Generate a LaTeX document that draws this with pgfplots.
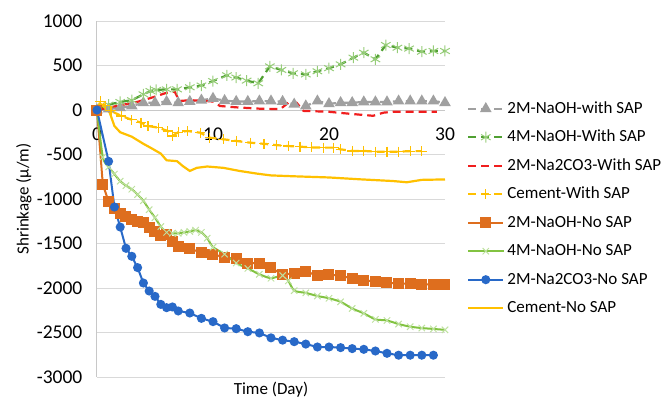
\documentclass[border=0pt]{standalone}
\usepackage{fontspec}
\setmainfont{Carlito}
\usepackage{pgfplots}
\pgfplotsset{compat=1.18}

\definecolor{gridgray}{RGB}{217,217,217}
\definecolor{axgray}{RGB}{200,200,200}
\definecolor{sapgray}{RGB}{160,160,160}
\definecolor{dkgreen}{RGB}{80,160,50}
\definecolor{ltgreen}{RGB}{150,205,120}
\definecolor{sapred}{RGB}{240,30,30}
\definecolor{cemyellow}{RGB}{255,192,0}
\definecolor{naorange}{RGB}{222,110,30}
\definecolor{nogreen}{RGB}{130,195,65}
\definecolor{nogreenmk}{RGB}{190,225,160}
\definecolor{nablue}{RGB}{40,105,200}

\newcommand\chartfont{\fontsize{17bp}{20bp}\selectfont}
\newcommand\tickfont{\fontsize{19.5bp}{22bp}\selectfont}

\begin{document}
\begin{tikzpicture}[font=\chartfont]
\begin{axis}[
  at={(0,0)}, anchor=south west,
  width=348bp, height=356bp, scale only axis,
  xmin=0, xmax=30, ymin=-3000, ymax=1000,
  axis x line=middle, axis y line=left,
  axis line style={-, draw=axgray, line width=1bp},
  hide obscured x ticks=false, hide obscured y ticks=false,
  xtick={0,10,20,30},
  ytick={-3000,-2500,...,1000},
  tick style={draw=none},
  ymajorgrids, grid style={draw=gridgray, line width=1bp},
  /pgf/number format/assume math mode=true,
  /pgf/number format/1000 sep={},
  xticklabel style={font=\tickfont, anchor=north, yshift=-12bp},
  yticklabel style={font=\tickfont, anchor=east, xshift=-9bp},
  xlabel={Time (Day)}, ylabel={Shrinkage (µ/m)},
  every axis x label/.style={at={(axis description cs:0.5,0)}, anchor=north,
    inner sep=1bp, yshift=-4bp, font=\chartfont},
  every axis y label/.style={at={(axis description cs:0,0.5)}, rotate=90,
    anchor=south, yshift=62bp, font=\chartfont},
  clip=false,
  legend cell align=left,
  legend style={draw=none, fill=none, inner sep=0pt,
    at={(axis description cs:1,1)}, anchor=north west,
    xshift=22bp, yshift=-77bp, row sep=7.5bp,
    nodes={font=\chartfont, text height=12bp, text depth=3bp, inner sep=3bp}},
  legend image code/.code={\draw[mark repeat=2,mark phase=2,#1]
    plot coordinates {(0bp,0bp) (17.5bp,0bp) (35bp,0bp)};},
]

% 2M-NaOH with SAP
\addplot[sapgray, line width=2.2bp, dash pattern=on 8bp off 5bp,
  mark=triangle*, mark size=4.5bp, mark options={solid, fill=sapgray, draw=sapgray}]
coordinates {(0,0) (1,10) (2,25) (3,45) (4,80) (5,82) (6,93) (7,80) (8,95)
 (9,110) (10,130) (11,105) (12,95) (13,95) (14,100) (15,100) (16,95) (17,64)
 (18,45) (19,100) (20,70) (21,82) (22,82) (23,90) (24,90) (25,90) (26,100)
 (27,100) (28,100) (29,100) (30,82)};
\addlegendentry{2M-NaOH-with SAP}

% 4M-NaOH with SAP
\addplot[dkgreen, line width=2.2bp, dash pattern=on 8bp off 5bp,
  mark=asterisk, mark size=5.5bp, mark options={solid, draw=ltgreen, line width=1bp}]
coordinates {(0,0) (1,60) (2,90) (3,110) (4,176) (4.6,213) (5.1,225) (6,232)
 (6.9,232) (8,255) (9,275) (10,325) (11.2,390) (12,365) (12.9,330) (13.9,300)
 (14.9,490) (15.9,450) (16.9,412) (18,400) (19,435) (20,470) (21,513)
 (22.1,588) (23,644) (24,570) (24.9,730) (25.9,700) (26.9,690) (28,655)
 (29,663) (30,663)};
\addlegendentry{4M-NaOH-With SAP}

% 2M-Na2CO3 with SAP
\addplot[sapred, line width=2.2bp, dash pattern=on 8bp off 5bp]
coordinates {(0,0) (1,25) (2,55) (3,75) (4,110) (5,150) (6,194) (6.7,206)
 (7.1,101) (8,110) (9,105) (10,95) (10.6,45) (12,30) (14,15) (15.8,10)
 (16.5,82) (17.2,82) (17.8,-10) (20,-20) (22,-45) (23.8,-65) (24.7,-30)
 (25.5,-20) (29.3,-20)};
\addlegendentry{2M-Na2CO3-With SAP}

% Cement with SAP
\addplot[cemyellow, line width=2.2bp, dash pattern=on 8bp off 5bp,
  mark=+, mark size=5bp, mark options={solid, line width=1.2bp}]
coordinates {(0,0) (0.3,100) (0.7,50) (1.2,-10) (2.1,-67) (3,-110) (3.8,-142)
 (4.4,-180) (5.3,-199) (6.1,-236) (6.5,-292) (7,-250) (7.8,-236) (8.9,-255)
 (9.7,-311) (10.9,-329) (12,-348) (13.2,-367) (14.4,-380) (15.5,-395)
 (16.5,-405) (17.5,-412) (18.5,-420) (19.5,-423) (20.4,-423) (21,-442)
 (22,-460) (23,-460) (24,-468) (25,-468) (26,-468) (27,-462) (28,-462)};
\addlegendentry{Cement-With SAP}

% 2M-NaOH no SAP
\addplot[naorange, line width=2bp,
  mark=square*, mark size=4.5bp, mark options={fill=naorange, draw=naorange}]
coordinates {(0,0) (0.5,-835) (1,-1030) (1.5,-1110) (2,-1165) (2.5,-1200)
 (3,-1235) (3.5,-1250) (4,-1262) (4.5,-1320) (5,-1360) (5.5,-1412) (6,-1400)
 (6.5,-1480) (7,-1539) (8,-1560) (9,-1600) (10,-1622) (11,-1655) (12,-1672)
 (13,-1720) (14,-1720) (15,-1772) (16,-1850) (17,-1832) (18,-1809) (19,-1865)
 (20,-1846) (21,-1865) (22,-1891) (23,-1913) (24,-1929) (25,-1940) (26,-1951)
 (27,-1951) (28,-1958) (29,-1958) (30,-1958)};
\addlegendentry{2M-NaOH-No SAP}

% 4M-NaOH no SAP
\addplot[nogreen, line width=2bp, smooth, tension=0.4,
  mark=x, mark size=4.5bp, mark options={draw=nogreenmk, line width=1bp}]
coordinates {(0,0) (0.5,-530) (1,-640) (1.5,-720) (2,-800) (2.5,-850) (3,-890)
 (3.5,-950) (4,-1020) (4.5,-1120) (5,-1210) (5.5,-1310) (6,-1375) (6.5,-1385)
 (7,-1385) (7.5,-1375) (8,-1365) (8.5,-1350) (9,-1375) (9.5,-1440) (10,-1540)
 (11,-1620) (12,-1720) (13,-1780) (14,-1846) (15,-1890) (16,-1860)
 (16.5,-1920) (17,-2030) (18,-2055) (19,-2090) (20,-2115) (21,-2155)
 (22,-2230) (23,-2285) (24,-2352) (25,-2365) (26,-2405) (27,-2435)
 (28,-2450) (29,-2460) (30,-2470)};
\addlegendentry{4M-NaOH-No SAP}

% 2M-Na2CO3 no SAP
\addplot[nablue, line width=2bp,
  mark=*, mark size=3.5bp, mark options={fill=nablue, draw=nablue}]
coordinates {(0,0) (1,-577) (1.5,-1090) (2,-1315) (2.5,-1554) (3,-1644)
 (3.5,-1771) (4,-1944) (4.5,-2034) (5,-2094) (5.5,-2184) (6,-2221) (6.5,-2213)
 (7,-2258) (8,-2281) (9,-2341) (10,-2378) (11,-2449) (12,-2457) (13,-2491)
 (14,-2505) (15,-2560) (16,-2586) (17,-2603) (18,-2630) (19,-2663) (20,-2663)
 (21,-2670) (22,-2681) (23,-2689) (24,-2708) (25,-2734) (26,-2755) (27,-2755)
 (28,-2755) (29,-2755)};
\addlegendentry{2M-Na2CO3-No SAP}

% Cement no SAP
\addplot[cemyellow, line width=2.2bp]
coordinates {(0,0) (0.4,60) (0.9,0) (1.1,-30) (1.5,-180) (2,-250) (3,-300)
 (4,-380) (4.7,-430) (5.5,-490) (6,-565) (6.9,-575) (7.4,-630) (8,-685)
 (8.6,-650) (9.5,-635) (10.9,-650) (12.3,-685) (13.8,-715) (15,-735)
 (17,-745) (20,-758) (22.7,-779) (25.5,-798) (26.7,-812) (28,-785) (30,-780)};
\addlegendentry{Cement-No SAP}

\end{axis}
\pgfresetboundingbox
\useasboundingbox (-97bp,-22bp) rectangle (573bp,377bp);
\end{tikzpicture}
\end{document}
